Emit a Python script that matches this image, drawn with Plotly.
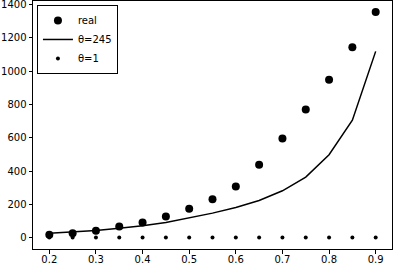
import plotly.graph_objects as go

x_vals = [0.2, 0.25, 0.3, 0.35, 0.4, 0.45, 0.5, 0.55, 0.6, 0.65, 0.7, 0.75, 0.8, 0.85, 0.9]
real_vals = [18, 28, 42, 68, 92, 128, 174, 232, 308, 438, 596, 770, 948, 1142, 1354]
theta245_vals = [28, 35, 44, 57, 72, 92, 120, 148, 182, 224, 282, 364, 498, 705, 1118]
theta1_vals = [2, 2, 2, 2, 2, 2, 2, 2, 2, 2, 2, 2, 2, 2, 2]
x_ticks = [0.2, 0.3, 0.4, 0.5, 0.6, 0.7, 0.8, 0.9]
y_ticks = [0, 200, 400, 600, 800, 1000, 1200, 1400]

fig = go.Figure()
fig.add_trace(go.Scatter(x=x_vals, y=real_vals, mode="markers", name="real",
                         marker=dict(color="black", size=8)))
fig.add_trace(go.Scatter(x=x_vals, y=theta245_vals, mode="lines", name="θ=245",
                         line=dict(color="black", width=1.5)))
fig.add_trace(go.Scatter(x=x_vals, y=theta1_vals, mode="markers", name="θ=1",
                         marker=dict(color="black", size=4)))

axis_common = dict(showline=True, mirror=True, linecolor="black", linewidth=1,
                   ticks="outside", ticklen=3.5, tickcolor="black", showgrid=False,
                   zeroline=False, automargin=False, ticklabeloverflow="allow",
                   tickfont=dict(family="DejaVu Sans", size=10, color="black"))
fig.update_xaxes(range=[0.165, 0.935], tickvals=x_ticks,
                 ticktext=[f"{v:.1f}" for v in x_ticks], ticklabelstandoff=-3,
                 **axis_common)
fig.update_yaxes(range=[-67, 1420], tickvals=y_ticks, **axis_common)

fig.update_layout(
    width=393, height=265,
    margin=dict(l=33, r=1, t=1, b=16, autoexpand=False),
    paper_bgcolor="white", plot_bgcolor="white",
    font=dict(family="DejaVu Sans", size=10, color="black"),
    legend=dict(x=0.011, y=0.984, xanchor="left", yanchor="top",
                bgcolor="white", bordercolor="black", borderwidth=1,
                font=dict(size=10), itemwidth=30, tracegroupgap=0),
    showlegend=True,
)
fig.write_html("out.html", config={"displayModeBar": False},
               post_script="document.body.style.margin='0';document.body.style.overflow='hidden';")
